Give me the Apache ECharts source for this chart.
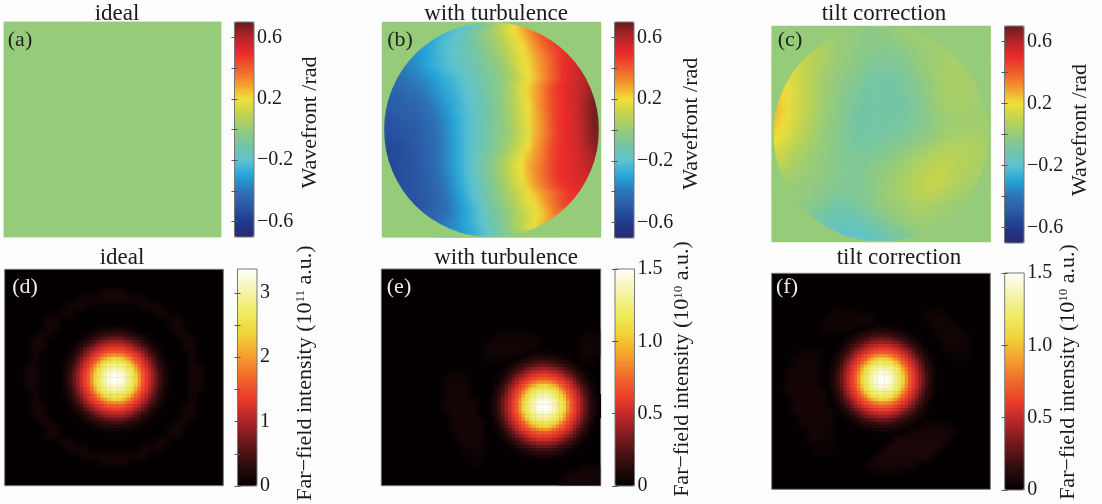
<!DOCTYPE html>
<html><head><meta charset="utf-8">
<style>html,body{margin:0;padding:0;background:#fdfdfd}
#base,#soft,#top{position:absolute;left:0;top:0;width:1102px;height:504px}
#soft{filter:blur(2.6px)}</style>
<script src="https://cdn.jsdelivr.net/npm/echarts@6/dist/echarts.min.js"></script>
</head><body><div id="base"></div><div id="soft"></div><div id="top"></div>
<script>
// Wavefront in 1/100 rad; each row is [first column, values...]
const wavefrontA = [[0,0]];
const wavefrontB = [
[11,-22,-19,-15,-10,-4,3,9,15,20,27,32],
[8,-29,-25,-21,-17,-13,-8,-3,1,5,10,16,20,26,32,37,42],
[6,-31,-28,-25,-22,-20,-16,-12,-8,-4,0,3,8,13,18,23,29,35,40,45,49],
[5,-33,-30,-27,-24,-21,-19,-16,-12,-9,-5,-2,2,6,11,16,20,26,32,38,42,47,51],
[4,-35,-33,-30,-27,-24,-21,-19,-16,-13,-10,-7,-3,0,4,9,14,19,24,30,35,40,45,49,52],
[3,-37,-36,-33,-30,-27,-25,-22,-19,-17,-14,-11,-8,-5,-2,2,7,12,18,22,28,33,38,44,49,52,54],
[2,-39,-38,-36,-33,-30,-27,-25,-22,-20,-17,-14,-12,-9,-6,-3,0,5,11,18,21,27,32,38,44,50,52,54,56],
[1,-42,-41,-39,-37,-35,-32,-30,-27,-24,-22,-19,-16,-13,-10,-7,-4,-1,4,9,16,20,26,32,37,43,49,52,55,58,60],
[1,-44,-43,-41,-39,-37,-35,-32,-29,-26,-24,-21,-18,-15,-12,-9,-6,-3,2,7,14,19,25,31,37,43,49,52,55,59,62],
[0,-46,-45,-44,-43,-41,-39,-37,-34,-31,-28,-25,-22,-19,-16,-12,-9,-5,-1,4,10,17,22,29,35,41,47,50,53,56,59,63,66],
[0,-47,-47,-46,-44,-42,-40,-38,-35,-32,-29,-26,-23,-20,-16,-13,-9,-6,-2,3,9,16,22,28,34,41,47,50,53,56,60,64,67],
[0,-49,-48,-47,-46,-44,-42,-40,-37,-34,-30,-27,-24,-20,-17,-13,-10,-6,-2,3,8,15,21,29,34,41,46,50,53,56,60,65,69],
[0,-50,-49,-48,-47,-46,-44,-42,-39,-36,-32,-28,-25,-21,-18,-14,-10,-6,-2,3,8,15,20,28,34,41,46,50,53,56,61,66,70],
[0,-51,-50,-49,-48,-47,-45,-43,-41,-37,-33,-29,-25,-22,-18,-14,-10,-7,-2,2,8,14,20,27,33,40,46,50,52,56,61,66,70],
[0,-52,-51,-50,-49,-48,-46,-44,-42,-38,-34,-30,-26,-22,-18,-14,-10,-7,-3,2,7,13,19,27,32,40,46,50,52,56,60,66,70],
[0,-53,-52,-51,-50,-49,-47,-45,-43,-39,-35,-30,-26,-22,-18,-14,-10,-6,-3,2,7,13,18,26,32,39,46,50,52,55,60,65,70],
[0,-54,-53,-52,-51,-50,-48,-45,-43,-40,-35,-31,-26,-22,-18,-14,-10,-6,-3,1,6,12,18,27,32,39,46,50,52,55,60,65,69],
[0,-55,-54,-53,-52,-50,-48,-46,-44,-40,-36,-31,-27,-22,-18,-14,-10,-6,-2,2,7,13,18,28,33,40,46,50,52,55,59,64,68],
[0,-55,-55,-54,-53,-51,-49,-46,-44,-40,-36,-31,-27,-22,-18,-14,-9,-5,-1,4,9,15,20,29,34,41,47,50,52,55,58,63,66],
[0,-56,-55,-54,-53,-52,-49,-47,-44,-40,-36,-31,-27,-22,-17,-12,-8,-4,0,6,11,18,24,30,35,42,47,50,52,54,57,61,64],
[0,-56,-55,-54,-53,-52,-49,-47,-44,-40,-36,-31,-27,-22,-17,-12,-7,-2,3,8,14,19,26,31,36,42,47,50,52,54,57,60,62],
[0,-56,-55,-54,-53,-52,-49,-47,-44,-40,-36,-31,-27,-22,-17,-11,-6,-1,4,10,16,20,28,32,37,43,48,50,52,54,56,59,61],
[0,-56,-55,-54,-53,-52,-50,-47,-45,-41,-37,-32,-27,-22,-17,-12,-7,-2,3,9,15,19,27,32,37,42,47,50,52,54,55,57,59],
[1,-55,-54,-53,-52,-50,-48,-45,-42,-38,-33,-28,-23,-18,-13,-8,-3,2,7,13,18,25,31,36,41,46,50,51,53,54,55],
[2,-54,-53,-52,-50,-49,-46,-43,-39,-34,-29,-24,-19,-14,-9,-4,1,6,11,17,23,30,34,40,44,48,50,52,53],
[3,-53,-52,-50,-49,-47,-44,-40,-35,-30,-25,-20,-15,-10,-5,0,4,9,14,19,24,30,34,39,44,48,50],
[4,-52,-51,-49,-47,-44,-41,-36,-31,-26,-21,-16,-11,-6,-2,3,8,13,18,22,29,34,39,44,48],
[5,-51,-49,-47,-45,-42,-37,-32,-28,-23,-18,-13,-8,-3,1,6,11,16,20,26,32,38,43],
[6,-48,-46,-44,-41,-37,-33,-29,-25,-20,-15,-10,-5,-1,4,9,14,18,23,30,36],
[7,-45,-43,-39,-36,-32,-28,-24,-20,-15,-10,-6,-1,4,9,14,18,24,31],
[9,-38,-35,-32,-29,-26,-21,-16,-11,-6,-1,4,9,15,20,28],
[11,-33,-30,-27,-23,-18,-14,-9,-5,0,5,10]];
const wavefrontC = [
[11,-1,-2,-2,-3,-3,-2,-1,1,2,2,2],
[9,2,1,-1,-2,-3,-3,-3,-3,-2,0,1,2,2,2],
[7,4,3,1,0,-1,-2,-3,-4,-4,-3,-3,-2,0,1,2,2,2,2],
[5,8,7,5,3,1,0,-1,-2,-3,-4,-5,-5,-5,-4,-3,-1,0,1,2,2,3,3],
[4,9,9,7,5,3,2,0,-1,-3,-4,-5,-6,-6,-5,-5,-4,-2,0,1,2,3,3,3,3],
[3,12,11,9,7,5,3,1,0,-2,-3,-5,-6,-7,-7,-7,-6,-5,-3,-1,1,2,3,4,4,3,3],
[2,15,14,11,9,6,4,2,0,-1,-3,-4,-6,-7,-8,-8,-8,-7,-6,-4,-2,0,2,3,4,4,4,3,2],
[1,18,16,14,11,8,6,3,1,-1,-2,-4,-6,-7,-9,-9,-9,-9,-8,-7,-5,-3,-1,1,3,4,4,4,3,3,2],
[1,19,17,14,11,9,6,3,1,-1,-3,-4,-6,-8,-9,-10,-10,-10,-9,-8,-6,-4,-2,0,2,4,4,4,4,3,2],
[0,23,21,18,15,11,9,6,3,1,-1,-3,-5,-7,-9,-10,-10,-10,-10,-9,-8,-6,-4,-2,1,3,4,4,4,4,3,2,1],
[0,24,22,19,15,12,9,6,3,0,-2,-4,-6,-8,-10,-10,-10,-10,-10,-10,-9,-7,-5,-3,0,2,4,4,4,4,3,2,1],
[0,25,22,18,14,11,8,5,2,0,-2,-5,-7,-9,-10,-10,-10,-10,-10,-10,-9,-8,-6,-3,-1,2,3,4,4,4,3,2,1],
[0,26,23,18,14,11,8,5,2,-1,-3,-5,-7,-9,-10,-11,-11,-10,-10,-10,-9,-8,-6,-4,-1,1,3,3,3,3,3,2,2],
[0,25,22,18,14,10,7,4,2,-1,-3,-5,-8,-10,-11,-11,-10,-10,-10,-9,-9,-7,-6,-4,-2,0,2,3,3,3,3,2,2],
[0,24,21,17,13,10,7,4,1,-1,-3,-5,-8,-10,-11,-10,-10,-10,-9,-9,-8,-7,-5,-4,-2,0,1,2,3,3,3,3,2],
[0,22,19,16,12,9,6,3,1,-2,-4,-6,-8,-10,-10,-10,-10,-9,-9,-8,-7,-6,-5,-3,-1,1,2,3,3,3,3,3,3],
[0,20,18,14,11,8,5,3,0,-2,-4,-6,-8,-9,-10,-9,-9,-8,-8,-7,-6,-5,-3,-2,0,1,3,4,4,5,5,4,3],
[0,18,15,12,9,6,4,2,0,-2,-4,-6,-8,-9,-9,-9,-8,-7,-6,-5,-5,-3,-1,1,2,4,5,6,6,6,6,5,4],
[0,16,13,10,7,5,3,1,-1,-3,-4,-6,-7,-8,-8,-8,-7,-6,-5,-4,-2,0,2,3,5,6,7,7,7,7,6,5,4],
[1,11,8,6,4,2,0,-1,-3,-4,-5,-6,-7,-7,-6,-5,-4,-3,-1,1,2,4,5,7,8,8,8,7,6,6,5],
[1,9,7,5,3,1,-1,-2,-4,-5,-6,-6,-6,-6,-5,-4,-2,0,1,2,4,6,7,8,9,9,8,7,7,6,4],
[2,5,3,2,1,0,-1,-3,-4,-5,-6,-6,-5,-4,-3,-1,0,2,3,5,7,8,9,10,9,8,7,6,5],
[2,4,2,1,0,-1,-2,-4,-5,-6,-6,-6,-5,-4,-2,0,1,3,5,6,8,9,10,10,9,8,7,5,4],
[3,1,0,-1,-2,-3,-4,-5,-6,-6,-6,-5,-4,-2,0,1,3,5,6,8,9,11,11,9,7,6,4],
[3,0,-1,-1,-3,-4,-5,-6,-7,-7,-6,-5,-3,-1,1,2,4,5,7,8,9,9,8,7,5,4,3],
[4,-1,-2,-3,-5,-6,-8,-8,-8,-7,-6,-4,-2,0,1,3,4,5,7,7,7,6,5,4,2],
[5,-3,-5,-7,-9,-10,-10,-9,-8,-6,-4,-2,0,1,2,3,4,5,5,4,3,2,1],
[5,-5,-7,-9,-11,-12,-12,-11,-10,-8,-6,-4,-2,0,1,2,3,4,4,3,2,2,1],
[6,-9,-11,-12,-14,-14,-14,-13,-11,-9,-7,-5,-3,-1,1,2,2,2,2,1,1],
[7,-12,-14,-15,-16,-16,-15,-14,-12,-10,-8,-6,-4,-2,0,1,1,1,1],
[9,-16,-17,-18,-18,-17,-15,-13,-11,-9,-7,-5,-3,-1,0],
[11,-18,-18,-18,-17,-16,-14,-12,-10,-8,-6,-4]];

// Far-field intensity in % of the colour-bar top; rows are [first column, values...]
const farFieldDFirstRow = 16;
const farFieldD = [
[29,1,1,1,1,1,1,1],
[26,1,2,2,3,4,4,4,4,4,3,2,2,1],
[24,1,2,3,5,6,7,7,8,8,8,7,7,6,5,3,2,1],
[22,1,2,3,5,7,8,10,11,12,13,13,13,12,11,10,8,7,5,3,2,1],
[21,1,2,4,6,9,11,13,15,17,19,20,20,20,19,17,15,13,11,9,6,4,2,1],
[20,1,2,5,7,10,13,16,19,22,24,26,27,27,27,26,24,22,19,16,13,10,7,5,2,1],
[19,1,2,5,7,11,14,18,22,26,29,31,33,34,34,34,33,31,29,26,22,18,14,11,7,5,2,1],
[19,2,4,7,11,15,20,24,28,32,35,37,39,40,40,40,39,37,35,32,28,24,20,15,11,7,4,2],
[18,1,3,6,10,14,20,25,30,34,37,40,43,45,47,47,47,45,43,40,37,34,30,25,20,14,10,6,3,1],
[18,2,5,9,13,18,24,30,35,39,43,47,51,55,57,58,57,55,51,47,43,39,35,30,24,18,13,9,5,2],
[17,1,3,7,11,16,22,28,34,39,44,49,56,62,67,71,72,71,67,62,56,49,44,39,34,28,22,16,11,7,3,1],
[17,2,5,8,13,19,26,32,37,43,49,57,66,73,76,78,79,78,76,73,66,57,49,43,37,32,26,19,13,8,5,2],
[17,2,6,10,15,22,29,35,40,47,56,66,74,79,82,84,85,84,82,79,74,66,56,47,40,35,29,22,15,10,6,2],
[16,1,3,7,11,17,24,31,37,43,51,62,73,79,84,87,90,91,90,87,84,79,73,62,51,43,37,31,24,17,11,7,3,1],
[16,1,4,7,12,19,26,33,39,45,55,67,76,82,87,92,95,96,95,92,87,82,76,67,55,45,39,33,26,19,12,7,4,1],
[16,1,4,8,13,20,27,34,40,47,57,71,78,84,90,95,98,99,98,95,90,84,78,71,57,47,40,34,27,20,13,8,4,1],
[16,1,4,8,13,20,27,34,40,47,58,72,79,85,91,96,99,100,99,96,91,85,79,72,58,47,40,34,27,20,13,8,4,1],
[16,1,4,8,13,20,27,34,40,47,57,71,78,84,90,95,98,99,98,95,90,84,78,71,57,47,40,34,27,20,13,8,4,1],
[16,1,4,7,12,19,26,33,39,45,55,67,76,82,87,92,95,96,95,92,87,82,76,67,55,45,39,33,26,19,12,7,4,1],
[16,1,3,7,11,17,24,31,37,43,51,62,73,79,84,87,90,91,90,87,84,79,73,62,51,43,37,31,24,17,11,7,3,1],
[17,2,6,10,15,22,29,35,40,47,56,66,74,79,82,84,85,84,82,79,74,66,56,47,40,35,29,22,15,10,6,2],
[17,2,5,8,13,19,26,32,37,43,49,57,66,73,76,78,79,78,76,73,66,57,49,43,37,32,26,19,13,8,5,2],
[17,1,3,7,11,16,22,28,34,39,44,49,56,62,67,71,72,71,67,62,56,49,44,39,34,28,22,16,11,7,3,1],
[18,2,5,9,13,18,24,30,35,39,43,47,51,55,57,58,57,55,51,47,43,39,35,30,24,18,13,9,5,2],
[18,1,3,6,10,14,20,25,30,34,37,40,43,45,47,47,47,45,43,40,37,34,30,25,20,14,10,6,3,1],
[19,2,4,7,11,15,20,24,28,32,35,37,39,40,40,40,39,37,35,32,28,24,20,15,11,7,4,2],
[19,1,2,5,7,11,14,18,22,26,29,31,33,34,34,34,33,31,29,26,22,18,14,11,7,5,2,1],
[20,1,2,5,7,10,13,16,19,22,24,26,27,27,27,26,24,22,19,16,13,10,7,5,2,1],
[21,1,2,4,6,9,11,13,15,17,19,20,20,20,19,17,15,13,11,9,6,4,2,1],
[22,1,2,3,5,7,8,10,11,12,13,13,13,12,11,10,8,7,5,3,2,1],
[24,1,2,3,5,6,7,7,8,8,8,7,7,6,5,3,2,1],
[26,1,2,2,3,4,4,4,4,4,3,2,2,1],
[29,1,1,1,1,1,1,1]];
const farFieldEFirstRow = 24;
const farFieldE = [
[44,1,1,2,2,2,1,1],
[41,1,2,3,4,5,5,5,4,4,3,2,2,1],
[39,1,3,4,5,7,8,8,9,8,8,7,7,6,5,3,2,1],
[37,1,3,4,6,8,9,11,12,13,14,14,13,12,11,10,8,7,5,3,2,1],
[36,2,3,5,7,10,12,14,16,18,19,20,21,20,19,17,15,13,11,9,6,4,2,1],
[35,1,3,5,8,11,14,16,20,22,25,26,27,28,27,26,24,22,19,16,13,10,7,5,2,1],
[34,1,3,5,8,11,15,18,22,26,29,32,33,34,35,34,33,31,29,26,22,18,14,11,7,5,2,1],
[34,2,4,7,11,16,20,25,28,32,35,38,39,40,41,40,39,37,35,32,28,24,20,15,11,7,4,2],
[33,1,3,6,10,14,20,26,30,34,37,40,43,46,47,47,47,45,43,40,37,34,30,25,20,14,10,6,3,1],
[33,2,5,9,13,18,25,30,35,39,43,47,52,55,57,58,57,55,51,47,43,39,35,30,24,18,13,9,5,2],
[32,1,3,7,11,16,22,28,34,39,44,50,56,62,67,71,72,71,67,62,56,49,44,39,34,28,22,16,11,7,3,1],
[32,2,5,8,13,19,26,32,38,43,49,57,66,73,76,78,79,78,76,73,66,57,49,43,37,32,26,19,13,8,5,2],
[32,2,6,10,15,22,29,35,40,47,56,66,74,79,82,84,85,84,82,79,74,66,56,47,40,35,29,22,15,10,6,2],
[31,1,3,7,11,17,24,31,37,43,51,62,73,79,84,87,90,91,90,87,84,79,73,62,51,43,37,31,24,17,11,7,3,1],
[31,1,4,7,12,19,26,33,39,45,55,67,76,82,87,92,95,96,95,92,87,82,76,67,55,45,39,33,26,19,12,7,4,1],
[31,1,4,8,13,20,27,34,40,47,57,71,78,84,90,95,98,99,98,95,90,84,78,71,57,47,40,34,27,20,13,8,4,1],
[31,1,4,8,13,20,27,34,40,47,58,72,79,85,91,96,99,100,99,96,91,85,79,72,58,47,40,34,27,20,13,8,4,1],
[31,1,4,8,13,20,27,34,40,47,57,71,78,84,90,95,98,99,98,95,90,84,78,71,57,47,40,34,27,20,13,8,4,1],
[31,1,4,7,12,19,26,33,39,45,55,67,76,82,87,92,95,96,95,92,87,82,76,67,55,45,39,33,26,19,12,7,4,1],
[31,1,3,7,11,17,24,31,37,43,51,62,73,79,84,87,90,91,90,87,84,79,73,62,51,43,37,31,24,17,11,7,3,1],
[32,2,6,10,15,22,29,35,40,47,56,66,74,79,82,84,85,84,82,79,74,66,56,47,40,35,29,22,15,10,6,2],
[32,2,5,8,13,19,26,32,37,43,49,57,66,73,76,78,79,78,76,73,66,57,49,43,37,32,26,19,13,8,5,2],
[32,1,3,7,11,16,22,28,34,39,44,49,56,62,67,71,72,71,67,62,56,49,44,39,34,28,22,16,11,7,3,1],
[33,2,5,9,13,18,24,30,35,39,43,47,51,55,57,58,57,55,51,47,43,39,35,30,24,18,13,9,5,2],
[33,1,3,6,10,14,20,25,30,34,37,40,43,45,47,47,47,45,43,40,37,34,30,25,20,14,10,6,3,1],
[34,2,4,7,11,15,20,24,28,32,35,37,39,40,40,40,39,37,35,32,28,24,20,15,11,7,4,2],
[34,1,2,5,7,11,14,18,22,26,29,31,33,34,34,34,33,31,29,26,22,18,14,11,7,5,2,1],
[35,1,2,5,7,10,13,16,19,22,24,26,27,27,27,26,24,22,19,16,13,10,7,5,2,1],
[36,1,2,4,6,9,11,13,15,17,19,20,20,20,19,17,15,13,11,9,6,4,2,1],
[37,1,2,3,5,7,8,10,11,12,13,13,13,12,11,10,8,7,5,3,2,1],
[39,1,2,3,5,6,7,7,8,8,8,7,7,6,5,3,2,1],
[41,1,2,2,3,4,4,4,4,4,3,2,2,1],
[44,1,1,1,1,1,1,1]];
const farFieldFFirstRow = 15;
const farFieldF = [
[29,1,1,2,2,1,1,1],
[26,1,2,3,4,5,5,5,4,4,3,2,2,1],
[24,1,3,4,6,7,8,8,9,8,8,7,7,6,5,3,2,1],
[22,1,3,4,6,8,9,11,12,13,14,14,13,12,11,10,8,7,5,3,2,1],
[21,2,3,5,7,10,12,14,16,18,19,21,21,20,19,17,15,13,11,9,6,4,2,1],
[20,1,3,5,8,11,14,17,20,22,25,26,27,27,27,26,24,22,19,16,13,10,7,5,2,1],
[19,1,3,6,8,12,15,18,22,26,29,31,33,34,34,34,33,31,29,26,22,18,14,11,7,5,2,1],
[19,2,4,7,11,15,20,24,28,32,35,37,39,40,40,40,39,37,35,32,28,24,20,15,11,7,4,2],
[18,1,3,6,10,14,20,25,30,34,37,40,43,45,47,47,47,45,43,40,37,34,30,25,20,14,10,6,3,1],
[18,2,5,9,13,18,24,30,35,39,43,47,51,55,57,58,57,55,51,47,43,39,35,30,24,18,13,9,5,2],
[17,1,3,7,11,16,22,28,34,39,44,49,56,62,67,71,72,71,67,62,56,49,44,39,34,28,22,16,11,7,3,1],
[17,2,5,8,13,19,26,32,37,43,49,57,66,73,76,78,79,78,76,73,66,57,49,43,37,32,26,19,13,8,5,2],
[17,2,6,10,15,22,29,35,40,47,56,66,74,79,82,84,85,84,82,79,74,66,56,47,40,35,29,22,15,10,6,2],
[16,1,3,7,11,17,24,31,37,43,51,62,73,79,84,87,90,91,90,87,84,79,73,62,51,43,37,31,24,17,11,7,3,1],
[16,1,4,7,12,19,26,33,39,45,55,67,76,82,87,92,95,96,95,92,87,82,76,67,55,45,39,33,26,19,12,7,4,1],
[16,1,4,8,13,20,27,34,40,47,57,71,78,84,90,95,98,99,98,95,90,84,78,71,57,47,40,34,27,20,13,8,4,1],
[16,1,4,8,13,20,27,34,40,47,58,72,79,85,91,96,99,100,99,96,91,85,79,72,58,47,40,34,27,20,13,8,4,1],
[16,1,4,8,13,20,27,34,40,47,57,71,78,84,90,95,98,99,98,95,90,84,78,71,57,47,40,34,27,20,13,8,4,1],
[16,1,4,7,12,19,26,33,39,45,55,67,76,82,87,92,95,96,95,92,87,82,76,67,55,45,39,33,26,19,12,7,4,1],
[16,1,3,7,11,17,24,31,37,43,51,62,73,79,84,87,90,91,90,87,84,79,73,62,51,43,37,31,24,17,11,7,3,1],
[17,2,6,10,15,22,29,35,40,47,56,66,74,79,82,84,85,84,82,79,74,66,56,47,40,35,29,22,15,10,6,2],
[17,2,5,8,13,19,26,32,37,43,49,57,66,73,76,78,79,78,76,73,66,57,49,43,37,32,26,19,13,8,5,2],
[17,1,3,7,11,16,22,28,34,39,44,49,56,62,67,71,72,71,67,62,56,49,44,39,34,28,22,16,11,7,3,1],
[18,2,5,9,13,18,24,30,35,39,43,47,51,55,57,58,57,55,51,47,43,39,35,30,24,18,13,9,5,2],
[18,1,3,6,10,14,20,25,30,34,37,40,43,45,47,47,47,45,43,40,37,34,30,25,20,14,10,6,3,1],
[19,2,4,7,11,15,20,24,28,32,35,37,39,40,40,40,39,37,35,32,28,24,20,15,11,7,5,3],
[19,1,2,5,7,11,14,18,22,26,29,31,33,34,34,34,33,31,29,26,22,18,15,11,8,5,3,2],
[20,1,2,5,7,10,13,16,19,22,24,26,27,27,27,26,24,22,19,16,13,10,8,5,3,2],
[21,1,2,4,6,9,11,13,15,17,19,20,20,20,19,17,15,13,11,9,7,4,3,2],
[22,1,2,3,5,7,8,10,11,12,13,13,13,12,11,10,8,7,5,4,3,2],
[24,1,2,3,5,6,7,7,8,8,8,7,7,6,5,4,3,2],
[26,1,2,2,3,4,4,4,4,4,3,3,2,2],
[29,1,1,1,1,1,1,1]];

// Faint side lobes on a coarser grid: [row, first column, last column, % of bar top]
const lobesD = [
[3,14,17,4],[4,11,20,4],[5,9,11,4],[5,20,22,4],[6,8,9,4],[6,22,23,4],[7,6,7,4],[7,24,25,4],[8,6,7,4],[8,24,25,4],
[9,5,6,4],[9,25,26,4],[10,4,5,4],[10,26,27,4],[11,4,5,4],[11,26,27,4],[12,4,4,4],[12,27,27,4],[13,4,4,4],[13,27,27,4],
[14,3,4,4],[14,27,28,4],[15,3,4,4],[15,27,28,4],[16,3,4,4],[16,27,28,4],[17,3,4,4],[17,27,28,4],[18,4,4,4],[18,27,27,4],
[19,4,4,4],[19,27,27,4],[20,4,5,4],[20,26,27,4],[21,4,5,4],[21,26,27,4],[22,5,6,4],[22,25,26,4],[23,6,7,4],[23,24,25,4],
[24,6,7,4],[24,24,25,4],[25,8,9,4],[25,22,23,4],[26,9,11,4],[26,20,22,4],[27,11,20,4],[28,14,17,4]];
const lobesE = [
[9,17,21,2],[10,16,22,3],[11,15,22,3],[12,15,20,3],[13,15,18,2],
[9,30,31,2],[10,29,31,3],[11,29,31,3],[12,29,31,3],[13,29,30,2],
[15,10,11,2],[16,9,12,3],[17,9,12,3],[18,9,12,3],[19,9,13,3],[20,9,13,4],[21,10,13,4],[22,10,14,4],[23,10,14,4],[24,11,14,4],[25,11,14,3],[26,12,14,3],[27,12,14,2],[28,13,14,2],
[29,29,31,3],[30,27,31,4],[31,26,31,4]];
const lobesF = [
[5,9,12,2],[6,8,14,3],[7,7,14,3],[8,7,11,2],
[5,22,24,2],[6,22,25,3],[7,23,26,3],[8,24,27,3],[9,24,28,3],[10,25,28,3],[11,25,28,2],[12,26,28,2],
[11,4,6,2],[12,3,6,3],[13,3,6,3],[14,2,6,3],[15,2,6,3],[16,2,6,4],[17,2,7,4],[18,3,7,4],[19,3,7,4],[20,3,8,4],[21,4,8,4],[22,4,8,3],[23,5,8,3],[24,5,8,3],[25,6,8,2],[26,6,8,2],
[22,22,25,3],[23,20,26,4],[24,18,25,5],[25,17,24,6],[26,16,23,6],[27,15,22,5],[28,14,20,4],[29,15,18,2]];

const wavefrontTickLabels = [-0.6,-0.2,0.2,0.6];
const wavefrontTicks = [-0.6,-0.4,-0.2,0,0.2,0.4,0.6];
const idealTickLabels = [0,1,2,3];
const idealTicks = [0,0.5,1,1.5,2,2.5,3];
const turbTickLabels = [0,0.5,1,1.5];
const turbTicks = [0,0.5,1,1.5];

const jet = ['#29296f','#1f3a8f','#2a58a6','#2d74b9','#25a4da','#5ec3d0','#74c5a5','#96cb7a','#c2d44e','#f0df3a','#f4992d','#ef5d2b','#eb2a2a','#b32428','#681c1e'];
const hot = ['#040002','#2e0c0d','#6a1719','#ad2327','#ea3a2a','#f0692b','#f5a02c','#f1d239','#efec62','#f6f4ad','#fffffc'];
const SERIF = '"Liberation Serif","Times New Roman",serif';
const GREEN = '#96cb7a';

const panels = [
 {title:'ideal',tx:117,ty:14,tag:'(a)',ax:20,ay:40,tagColor:'#222',rect:[4,22,217,215],bar:[234.5,22,19.5,215],rows:wavefrontA,firstRow:0,n:1,disc:false,kind:'w',lx:310,ly:122.5},
 {title:'with turbulence',tx:496,ty:14,tag:'(b)',ax:400,ay:40,tagColor:'#222',rect:[382,22,219,215.5],bar:[614.5,22,19.5,216],rows:wavefrontB,firstRow:0,n:32,disc:true,kind:'w',lx:691.7,ly:123.7},
 {title:'tilt correction',tx:884,ty:14,tag:'(c)',ax:790,ay:40,tagColor:'#222',rect:[771.7,26,219,216],bar:[1004.5,26,19.5,217],rows:wavefrontC,firstRow:0,n:32,disc:true,kind:'w',lx:1080,ly:130},
 {title:'ideal',tx:122,ty:258,tag:'(d)',ax:25,ay:287,tagColor:'#eee',rect:[4.7,269.3,218.6,216.4],bar:[237.5,269,19.5,217],rows:farFieldD,firstRow:farFieldDFirstRow,n:64,lobes:lobesD,kind:'d',max:3.37,lx:305,ly:373,exp:'11'},
 {title:'with turbulence',tx:506,ty:258,tag:'(e)',ax:399,ay:287,tagColor:'#eee',rect:[381.3,269,219.4,216.7],bar:[615,269,19.5,217],rows:farFieldE,firstRow:farFieldEFirstRow,n:64,lobes:lobesE,kind:'e',max:1.5,lx:682.6,ly:369,exp:'10'},
 {title:'tilt correction',tx:899,ty:258,tag:'(f)',ax:787,ay:287,tagColor:'#eee',rect:[771.7,273.3,218.6,216],bar:[1004.7,273,19.5,217],rows:farFieldF,firstRow:farFieldFFirstRow,n:64,lobes:lobesF,kind:'f',max:1.5,lx:1068,ly:372,exp:'10'}
];

const newLayer = () => ({grid:[],xAxis:[],yAxis:[],series:[],visualMap:[],title:[],graphic:[]});
const base=newLayer(), soft=newLayer(), top_=newLayer();
const range = n => Array.from({length:n},(_,i)=>String(i));
function addImage(L,r,n,extra){
  const g=L.grid.length;
  L.grid.push(Object.assign({left:r[0],top:r[1],width:r[2],height:r[3],containLabel:false},extra||{}));
  L.xAxis.push({type:'category',gridIndex:g,data:range(n),show:false});
  L.yAxis.push({type:'category',gridIndex:g,data:range(n),show:false,inverse:true});
  return {xAxisIndex:L.xAxis.length-1,yAxisIndex:L.yAxis.length-1};
}
function addHeat(L,axes,data){
  L.series.push(Object.assign({type:'heatmap',data,silent:true,progressive:0,animation:false},axes));
  return L.series.length-1;
}
function rowCells(p,pad){
  const cells=[];
  p.rows.forEach((row,i)=>{
    for(let k=1;k<row.length;k++)cells.push([row[0]+k-1,p.firstRow+i,row[k]*p.scale]);
    for(let e=1;e<=pad;e++){
      if(row[0]-e>=0)cells.push([row[0]-e,p.firstRow+i,row[1]*p.scale]);
      const last=row[0]+row.length-2+e;
      if(last<p.n)cells.push([last,p.firstRow+i,row[row.length-1]*p.scale]);
    }
  });
  return cells;
}
panels.forEach(p=>{
  const wave=p.kind==='w';
  p.scale=wave?0.01:p.max/100;
  const vmin=wave?-0.7:0, vmax=wave?0.7:p.max, colors=wave?jet:hot;
  addImage(base,p.rect,1,{show:true,backgroundColor:wave?GREEN:'#040002',borderColor:wave?'#cfe3bf':'#777',borderWidth:1});
  const softIdx=[], topIdx=[];
  if(p.lobes){
    const ax=addImage(soft,p.rect,32);
    const d=[];
    p.lobes.forEach(([row,c0,c1,v])=>{for(let c=c0;c<=c1;c++)d.push([c,row,v*p.scale]);});
    softIdx.push(addHeat(soft,ax,d));
  }
  if(p.disc){
    const ax=addImage(soft,p.rect,p.n);
    softIdx.push(addHeat(soft,ax,rowCells(p,3)));
    soft.visualMap.push({show:false,type:'continuous',seriesIndex:softIdx,dimension:2,min:vmin,max:vmax,inRange:{color:colors}});
    const mx=addImage(top_,p.rect,1);
    top_.series.push(Object.assign({type:'custom',silent:true,clip:true,animation:false,data:[[0,0]],
      renderItem:(params)=>{
        const c=params.coordSys,R=Math.min(c.width,c.height)/2-0.3,cx=c.x+c.width/2,cy=c.y+c.height/2;
        const d=`M${c.x} ${c.y}h${c.width}v${c.height}h${-c.width}Z M${cx-R} ${cy}a${R} ${R} 0 1 0 ${2*R} 0a${R} ${R} 0 1 0 ${-2*R} 0Z`;
        return {type:'path',shape:{pathData:d},style:{fill:GREEN}};
      }},mx));
  }else{
    if(p.lobes)soft.visualMap.push({show:false,type:'continuous',seriesIndex:softIdx,dimension:2,min:vmin,max:vmax,inRange:{color:colors}});
    const ax=addImage(top_,p.rect,p.n);
    topIdx.push(addHeat(top_,ax,rowCells(p,0)));
  }
  // Colour bar: the visual map draws the ramp, a value axis carries the ticks
  top_.visualMap.push({type:'continuous',seriesIndex:topIdx,dimension:2,min:vmin,max:vmax,left:p.bar[0],top:p.bar[1],itemWidth:p.bar[2],itemHeight:p.bar[3],padding:0,calculable:false,hoverLink:false,realtime:false,orient:'vertical',inRange:{color:colors},z:4});
  const g=top_.grid.length;
  top_.grid.push({left:p.bar[0],top:p.bar[1],width:p.bar[2],height:p.bar[3],show:true,backgroundColor:'transparent',borderColor:'#777',borderWidth:1,z:6});
  const labels=wave?wavefrontTickLabels:(p.kind==='d'?idealTickLabels:turbTickLabels);
  const ticks=wave?wavefrontTicks:(p.kind==='d'?idealTicks:turbTicks);
  top_.xAxis.push({type:'value',gridIndex:g,show:false,min:0,max:1});
  top_.yAxis.push({type:'value',gridIndex:g,position:'right',min:vmin,max:vmax,z:6,splitLine:{show:false},axisLine:{show:false},
    axisTick:{show:true,inside:true,length:3,lineStyle:{color:'#555'},customValues:ticks},
    axisLabel:{margin:3,color:'#1a1a1a',fontFamily:SERIF,fontSize:20,customValues:labels,hideOverlap:false,showMinLabel:true,showMaxLabel:true,
      formatter:v=>{const a=Math.abs(v);const s=p.kind==='d'?String(a):(a===0&&!wave?'0':a.toFixed(1));return (v<0?'\u2212':'')+s;}}});
  top_.yAxis.push({type:'value',gridIndex:g,position:'left',min:vmin,max:vmax,z:6,splitLine:{show:false},axisLine:{show:false},axisLabel:{show:false},
    axisTick:{show:true,inside:true,length:3,lineStyle:{color:'#555'},customValues:ticks}});
  top_.title.push({text:p.title,left:p.tx,top:p.ty,textAlign:'center',textVerticalAlign:'middle',padding:0,textStyle:{fontFamily:SERIF,fontSize:23,fontWeight:'normal',color:'#1a1a1a'}});
  top_.graphic.push({type:'text',x:p.ax,y:p.ay,z:20,silent:true,style:{text:p.tag,fill:p.tagColor,font:'22px '+SERIF,textAlign:'center',textVerticalAlign:'middle'}});
  if(wave){
    top_.graphic.push({type:'text',x:p.lx,y:p.ly,rotation:Math.PI/2,z:20,silent:true,style:{text:'Wavefront /rad',fill:'#1a1a1a',font:'22px '+SERIF,textAlign:'center',textVerticalAlign:'middle'}});
  }else{
    top_.graphic.push({type:'text',x:p.lx,y:p.ly,rotation:Math.PI/2,z:20,silent:true,style:{text:'Far\u2212field intensity (10{s|'+p.exp+'} a.u.)',fill:'#1a1a1a',font:'22px '+SERIF,textAlign:'center',textVerticalAlign:'middle',rich:{s:{fontSize:13,fontFamily:SERIF,verticalAlign:'top',fill:'#1a1a1a',padding:[0,0,8,0]}}}});
  }
});
// The soft layer may only show inside the image panels
const softEl=document.getElementById('soft');
softEl.style.clipPath='path("'+panels.map(p=>`M${p.rect[0]} ${p.rect[1]}h${p.rect[2]}v${p.rect[3]}h${-p.rect[2]}Z`).join(' ')+'")';
echarts.init(document.getElementById('base')).setOption(Object.assign({backgroundColor:'#fdfdfd',animation:false},base));
echarts.init(softEl).setOption(Object.assign({backgroundColor:'transparent',animation:false},soft));
echarts.init(document.getElementById('top')).setOption(Object.assign({backgroundColor:'transparent',animation:false,tooltip:{show:false}},top_));
</script></body></html>
